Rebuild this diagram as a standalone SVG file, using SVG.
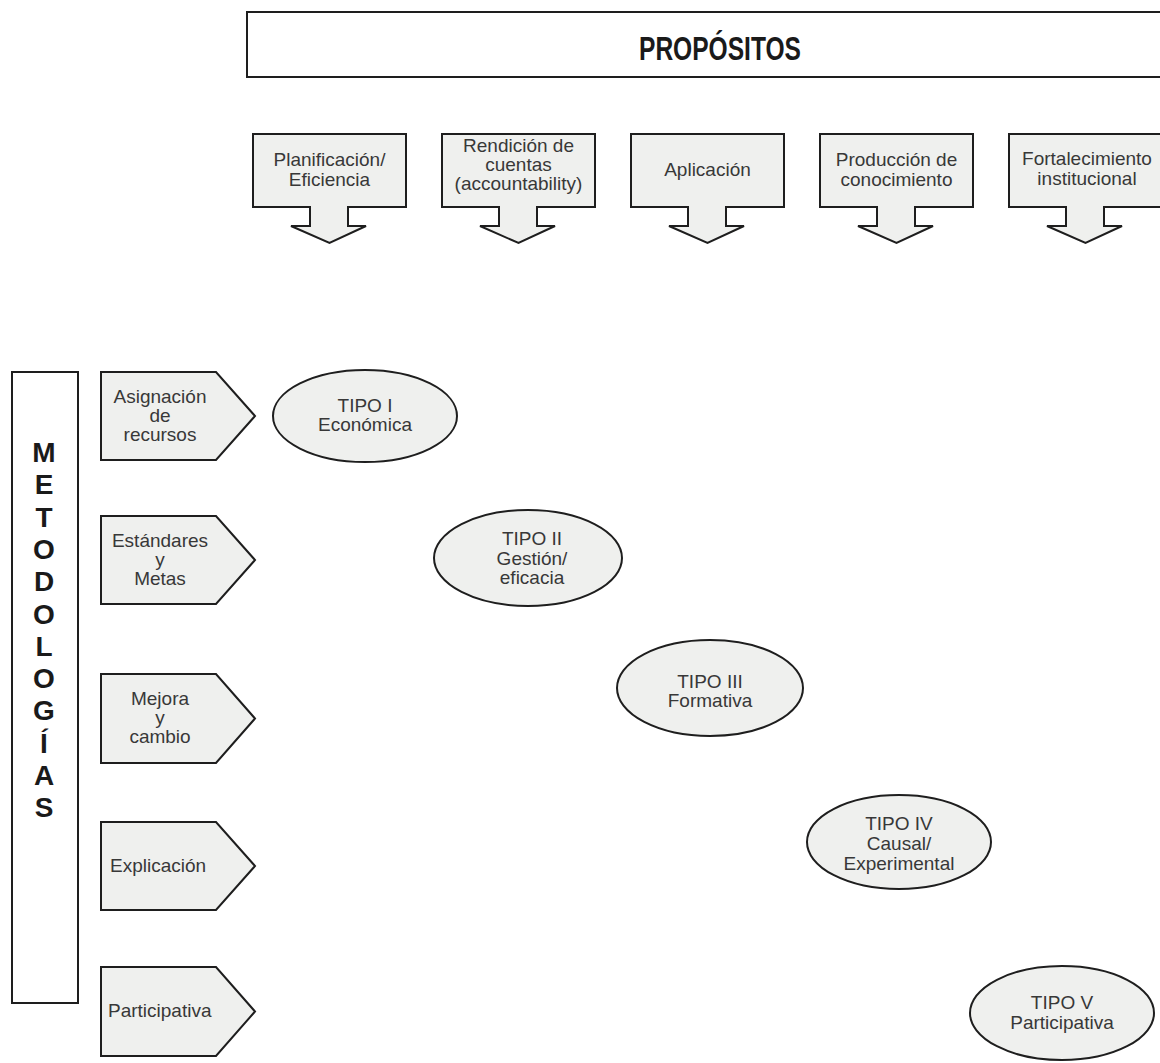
<svg xmlns="http://www.w3.org/2000/svg" width="1160" height="1063" viewBox="0 0 1160 1063">
<defs>
<style>
.shape{fill:#eff0ee;stroke:#1e1e1e;stroke-width:2;stroke-linejoin:miter}
.frame{fill:#ffffff;stroke:#1e1e1e;stroke-width:2}
.t{font-family:"Liberation Sans",Arial,Helvetica,sans-serif;font-size:19px;fill:#383838;text-anchor:middle}
.tl{font-family:"Liberation Sans",Arial,Helvetica,sans-serif;font-size:19px;fill:#383838;text-anchor:start}
.b{font-family:"Liberation Sans",Arial,Helvetica,sans-serif;font-weight:bold;fill:#1a1a1a;text-anchor:middle}
</style>
</defs>
<rect width="1160" height="1063" fill="#ffffff"/>

<g id="propositos">
<rect class="frame" x="247" y="12" width="920" height="65"/>
<text class="b" x="720" y="60" font-size="33" textLength="162" lengthAdjust="spacingAndGlyphs">PROPÓSITOS</text>
</g>

<g id="p1">
<path class="shape" d="M253,134 H406 V207 H348 V226 H366 L329.5,243 L291,226 H310 V207 H253 Z"/>
<text class="t" x="329.5" y="166">Planificación/</text>
<text class="t" x="329.5" y="186">Eficiencia</text>
</g>
<g id="p2">
<path class="shape" d="M442,134 H595 V207 H537 V226 H555 L518.5,243 L480,226 H499 V207 H442 Z"/>
<text class="t" x="518.5" y="152">Rendición de</text>
<text class="t" x="518.5" y="171">cuentas</text>
<text class="t" x="518.5" y="190">(accountability)</text>
</g>
<g id="p3">
<path class="shape" d="M631,134 H784 V207 H726 V226 H744 L707.5,243 L669,226 H688 V207 H631 Z"/>
<text class="t" x="707.5" y="176">Aplicación</text>
</g>
<g id="p4">
<path class="shape" d="M820,134 H973 V207 H915 V226 H933 L896.5,243 L858,226 H877 V207 H820 Z"/>
<text class="t" x="896.5" y="166">Producción de</text>
<text class="t" x="896.5" y="186">conocimiento</text>
</g>
<g id="p5">
<path class="shape" d="M1009,134 H1162 V207 H1104 V226 H1122 L1085.5,243 L1047,226 H1066 V207 H1009 Z"/>
<text class="t" x="1087" y="165">Fortalecimiento</text>
<text class="t" x="1087" y="185">institucional</text>
</g>

<g id="metodologias">
<rect class="frame" x="12" y="372" width="66" height="631"/>
<g class="b" font-size="28">
<text x="44" y="462">M</text>
<text x="44" y="494">E</text>
<text x="44" y="527">T</text>
<text x="44" y="559">O</text>
<text x="44" y="591">D</text>
<text x="44" y="624">O</text>
<text x="44" y="656">L</text>
<text x="44" y="688">O</text>
<text x="44" y="720">G</text>
<text x="44" y="753">Í</text>
<text x="44" y="785">A</text>
<text x="44" y="817">S</text>
</g>
</g>

<g id="m1">
<path class="shape" d="M101,372 H216 L255,416 L216,460 H101 Z"/>
<text class="t" x="160" y="403">Asignación</text>
<text class="t" x="160" y="422">de</text>
<text class="t" x="160" y="441">recursos</text>
</g>
<g id="m2">
<path class="shape" d="M101,516 H216 L255,560 L216,604 H101 Z"/>
<text class="t" x="160" y="547">Estándares</text>
<text class="t" x="160" y="566">y</text>
<text class="t" x="160" y="585">Metas</text>
</g>
<g id="m3">
<path class="shape" d="M101,674 H216 L255,718.5 L216,763 H101 Z"/>
<text class="t" x="160" y="705">Mejora</text>
<text class="t" x="160" y="724">y</text>
<text class="t" x="160" y="743">cambio</text>
</g>
<g id="m4">
<path class="shape" d="M101,822 H216 L255,866 L216,910 H101 Z"/>
<text class="tl" x="110" y="872">Explicación</text>
</g>
<g id="m5">
<path class="shape" d="M101,967 H216 L255,1011.5 L216,1056 H101 Z"/>
<text class="tl" x="108" y="1017">Participativa</text>
</g>

<g id="tipo1">
<ellipse class="shape" cx="365" cy="416" rx="92" ry="46"/>
<text class="t" x="365" y="412">TIPO I</text>
<text class="t" x="365" y="431" fill="#1e1e1e">Económica</text>
</g>
<g id="tipo2">
<ellipse class="shape" cx="528" cy="558" rx="94" ry="48"/>
<text class="t" x="532" y="545">TIPO II</text>
<text class="t" x="532" y="565">Gestión/</text>
<text class="t" x="532" y="584">eficacia</text>
</g>
<g id="tipo3">
<ellipse class="shape" cx="710" cy="688" rx="93" ry="48"/>
<text class="t" x="710" y="688">TIPO III</text>
<text class="t" x="710" y="707">Formativa</text>
</g>
<g id="tipo4">
<ellipse class="shape" cx="899" cy="842" rx="92" ry="47"/>
<text class="t" x="899" y="830">TIPO IV</text>
<text class="t" x="899" y="850">Causal/</text>
<text class="t" x="899" y="870">Experimental</text>
</g>
<g id="tipo5">
<ellipse class="shape" cx="1062" cy="1013" rx="92" ry="47"/>
<text class="t" x="1062" y="1009">TIPO V</text>
<text class="t" x="1062" y="1029">Participativa</text>
</g>

<g id="connectors"></g>
</svg>
